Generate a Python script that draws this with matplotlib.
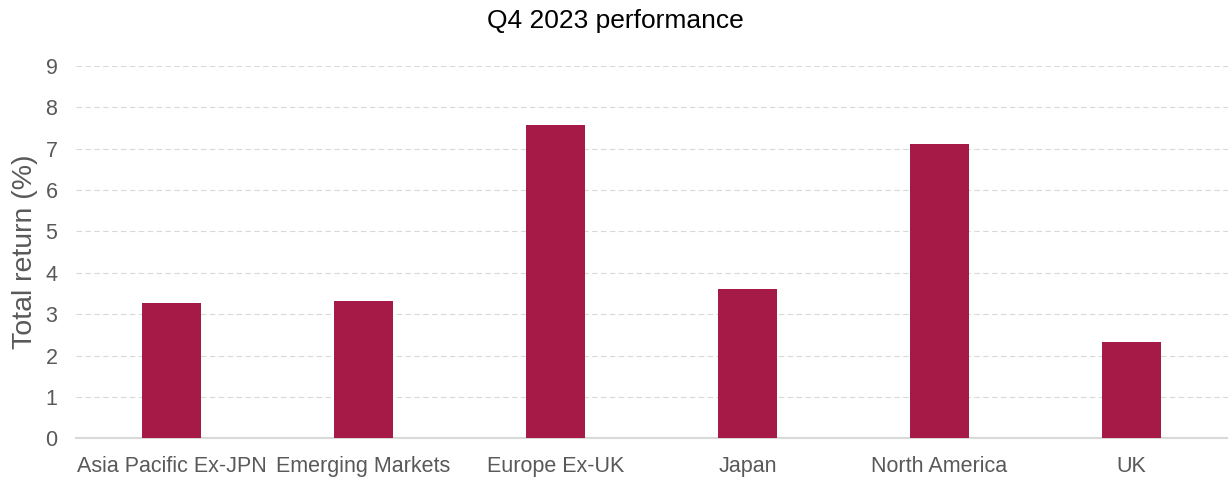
import matplotlib
matplotlib.use("Agg")
import matplotlib.pyplot as plt
import numpy as np

categories = ["Asia Pacific Ex-JPN", "Emerging Markets", "Europe Ex-UK", "Japan", "North America", "UK"]
values = [3.28, 3.31, 7.58, 3.60, 7.12, 2.32]
yticks = [0, 1, 2, 3, 4, 5, 6, 7, 8, 9]

plt.rcParams['font.family'] = ['Liberation Sans', 'DejaVu Sans']

fig = plt.figure(figsize=(12.28, 4.79), dpi=100)
ax = fig.add_axes([75.5/1228, 1 - 438.3/479, 1152/1228, (438.3 - 66)/479])

x = np.arange(len(categories))
ax.bar(x, values, width=0.31, color="#A51A47", zorder=3)
ax.set_xlim(-0.5, len(categories) - 0.5)
ax.set_ylim(0, 9)
ax.set_yticks(yticks)
ax.set_xticks(x)
ax.set_xticklabels(categories)
ax.tick_params(axis='both', length=0, labelsize=15.5, colors="#595959")
ax.tick_params(axis='y', pad=13)
ax.tick_params(axis='x', pad=13)
ax.grid(axis='y', color="#D9D9D9", linestyle=(0, (5, 3)), linewidth=0.8, zorder=0)
for s in ['top', 'right', 'left']:
    ax.spines[s].set_visible(False)
ax.spines['bottom'].set_color("#D9D9D9")
ax.spines['bottom'].set_linewidth(1.5)
ax.set_ylabel("Total return (%)", fontsize=20.5, color="#595959", labelpad=5)
fig.text(615/1228, 1 - 21/479, "Q4 2023 performance", ha='center', va='center', fontsize=19, color="#000000")

fig.savefig("out.png", dpi=100)
